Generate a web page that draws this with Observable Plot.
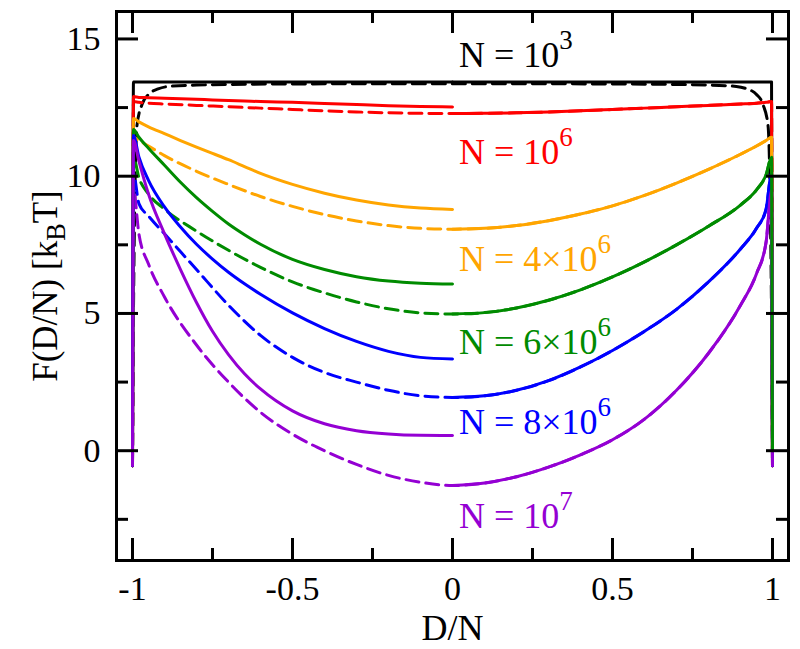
<!DOCTYPE html>
<html><head><meta charset="utf-8">
<script src="https://cdn.jsdelivr.net/npm/d3@7"></script>
<script src="https://cdn.jsdelivr.net/npm/@observablehq/plot@0.6"></script>
<style>
html,body{margin:0;padding:0;background:#fff;}
#chart svg{display:block;}
#chart svg text{font-family:"Liberation Serif","Times New Roman",serif !important;}
</style>
</head><body><div id="chart"></div>
<script>
// ---- series meta ----
const seriesColors = ["#000000", "#ff0000", "#ffa500", "#008b00", "#0000ff", "#9400d3"];
const seriesLabels = ["N = 10^{3}", "N = 10^{6}", "N = 4×10^{6}", "N = 6×10^{6}", "N = 8×10^{6}", "N = 10^{7}"];
const labelX = 0.02;
const labelY = [13.96, 10.46, 6.56, 3.54, 0.62, -2.81];

// ---- axes ----
const xTickValues = [-1, -0.5, 0, 0.5, 1];
const xTickLabels = ["-1", "-0.5", "0", "0.5", "1"];
const xMinorTicks = [-0.75, -0.25, 0.25, 0.75];
const yTickValues = [0, 5, 10, 15];
const yTickLabels = ["0", "5", "10", "15"];
const yMinorTicks = [-2.5, 2.5, 7.5, 12.5];
const xTitle = "D/N";
const yTitle = "F(D/N) [k_{B}T]";

// ---- left-half solid curves (D/N from -1 to 0) ----
const leftX = [-1, -0.997, -0.98, -0.95, -0.9, -0.85, -0.8, -0.75, -0.7, -0.65, -0.6, -0.5, -0.4, -0.3, -0.2, -0.1, 0];
const leftN1e3 = [-0.55, 13.43, 13.43, 13.43, 13.43, 13.43, 13.43, 13.43, 13.43, 13.43, 13.43, 13.43, 13.43, 13.43, 13.43, 13.43, 13.43];
const leftN1e6 = [-0.55, 12.9, 12.87, 12.86, 12.84, 12.82, 12.8, 12.78, 12.76, 12.74, 12.72, 12.69, 12.65, 12.61, 12.57, 12.54, 12.52];
const leftN4e6 = [-0.55, 12.1, 11.98, 11.8, 11.55, 11.3, 11.06, 10.83, 10.6, 10.35, 10.1, 9.7, 9.38, 9.13, 8.95, 8.84, 8.79];
const leftN6e6 = [-0.55, 11.7, 11.42, 11.02, 10.4, 9.78, 9.22, 8.72, 8.26, 7.87, 7.52, 6.97, 6.6, 6.34, 6.18, 6.1, 6.07];
const leftN8e6 = [-0.55, 11.48, 10.7, 9.85, 8.88, 8.15, 7.52, 6.98, 6.5, 6.08, 5.7, 5.02, 4.45, 3.98, 3.62, 3.4, 3.34];
const leftN1e7 = [-0.55, 11.3, 10.55, 9.35, 7.9, 6.6, 5.4, 4.35, 3.5, 2.8, 2.25, 1.45, 0.98, 0.73, 0.61, 0.56, 0.55];

// ---- right-half solid curves (D/N from 0 to 1) ----
const rightX = [0, 0.1, 0.2, 0.3, 0.4, 0.5, 0.6, 0.7, 0.8, 0.9, 0.95, 0.98, 0.997, 1];
const rightN1e3 = [13.43, 13.43, 13.43, 13.43, 13.43, 13.43, 13.43, 13.43, 13.43, 13.43, 13.43, 13.43, 13.43, -0.55];
const rightN1e6 = [12.28, 12.29, 12.31, 12.34, 12.38, 12.43, 12.48, 12.53, 12.58, 12.63, 12.66, 12.69, 12.72, -0.55];
const rightN4e6 = [8.07, 8.1, 8.2, 8.38, 8.62, 8.92, 9.3, 9.75, 10.25, 10.8, 11.1, 11.3, 11.42, -0.55];
const rightN6e6 = [4.98, 5.03, 5.2, 5.48, 5.86, 6.33, 6.88, 7.5, 8.18, 8.95, 9.5, 10.05, 10.69, 0];
const rightN8e6 = [1.94, 2.0, 2.2, 2.55, 3.05, 3.65, 4.35, 5.15, 6.15, 7.35, 8.1, 8.8, 10.09, -0.55];
const rightN1e7 = [-1.27, -1.18, -0.95, -0.6, -0.15, 0.4, 1.15, 2.2, 3.55, 5.3, 6.45, 7.6, 9.48, -0.55];

// ---- dashed curves over the whole range ----
const dashBlackX = [-1, -0.997, -0.986, -0.97, -0.95, -0.92, -0.887, -0.8, -0.5, 0, 0.5, 0.8, 0.887, 0.92, 0.95, 0.97, 0.986, 0.997, 1];
const dashN1e3 = [-0.55, 5.0, 11.85, 12.62, 12.98, 13.18, 13.27, 13.32, 13.36, 13.37, 13.36, 13.32, 13.27, 13.18, 12.98, 12.62, 11.85, 5.0, -0.55];
const dashX = [-1, -0.997, -0.98, -0.95, -0.9, -0.8, -0.7, -0.6, -0.5, -0.4, -0.3, -0.2, -0.1, 0, 0.1, 0.2, 0.3, 0.4, 0.5, 0.6, 0.7, 0.8, 0.9, 0.95, 0.98, 0.997, 1];
const dashN1e6 = [-0.55, 12.72, 12.69, 12.66, 12.63, 12.58, 12.53, 12.48, 12.43, 12.38, 12.34, 12.31, 12.29, 12.28, 12.29, 12.31, 12.34, 12.38, 12.43, 12.48, 12.53, 12.58, 12.63, 12.66, 12.69, 12.72, -0.55];
const dashN4e6 = [-0.55, 11.42, 11.3, 11.1, 10.75, 10.18, 9.7, 9.26, 8.9, 8.6, 8.37, 8.2, 8.1, 8.07, 8.1, 8.2, 8.38, 8.62, 8.92, 9.3, 9.75, 10.25, 10.8, 11.1, 11.3, 11.42, -0.55];
const dashN6e6 = [0, 10.69, 9.95, 9.35, 8.8, 8.0, 7.3, 6.68, 6.15, 5.75, 5.42, 5.17, 5.02, 4.98, 5.03, 5.2, 5.48, 5.86, 6.33, 6.88, 7.5, 8.18, 8.95, 9.5, 10.05, 10.69, 0];
const dashN8e6 = [-0.55, 10.09, 9.0, 8.55, 7.9, 6.6, 5.3, 4.2, 3.4, 2.85, 2.5, 2.2, 2.0, 1.94, 2.0, 2.2, 2.55, 3.05, 3.65, 4.35, 5.15, 6.15, 7.35, 8.1, 8.8, 10.09, -0.55];
const dashN1e7 = [-0.55, 9.48, 7.9, 6.8, 5.6, 3.85, 2.5, 1.4, 0.6, 0.0, -0.5, -0.9, -1.15, -1.27, -1.18, -0.95, -0.6, -0.15, 0.4, 1.15, 2.2, 3.55, 5.3, 6.45, 7.6, 9.48, -0.55];

// ---- build ----
const FONT = "Liberation Serif, Times New Roman, serif";
const W = 800, H = 649;
const mL = 116, mR = 12, mT = 11, mB = 89;
const frameW = W - mL - mR, frameH = H - mT - mB;
const majorLen = 22, minorLen = 12, lw = 3;

const rows = (xs, ys) => xs.map((x, i) => ({x, y: ys[i]}));
const leftSets = [leftN1e3, leftN1e6, leftN4e6, leftN6e6, leftN8e6, leftN1e7];
const rightSets = [rightN1e3, rightN1e6, rightN4e6, rightN6e6, rightN8e6, rightN1e7];
const dashSets = [[dashBlackX, dashN1e3], [dashX, dashN1e6], [dashX, dashN4e6], [dashX, dashN6e6], [dashX, dashN8e6], [dashX, dashN1e7]];
const rightOrder = [0, 1, 2, 4, 5, 3];

const lineOpts = (i, dashed) => ({x: "x", y: "y", stroke: seriesColors[i], strokeWidth: lw, curve: "monotone-x",
  strokeDasharray: dashed ? "13,7" : null, strokeLinejoin: "round"});

const marks = [];
dashSets.forEach(([xs, ys], i) => marks.push(Plot.line(rows(xs, ys), lineOpts(i, true))));
leftSets.forEach((ys, i) => marks.push(Plot.line(rows(leftX, ys), lineOpts(i, false))));
rightOrder.forEach(i => marks.push(Plot.line(rows(rightX, rightSets[i]), lineOpts(i, false))));

// frame and inward ticks on all four sides
marks.push(Plot.frame({stroke: "black", strokeWidth: lw}));
const tickStyle = {stroke: "black", strokeWidth: lw};
marks.push(
  Plot.ruleX(xTickValues, {x: d => d, insetTop: frameH - majorLen, ...tickStyle}),
  Plot.ruleX(xTickValues, {x: d => d, insetBottom: frameH - majorLen, ...tickStyle}),
  Plot.ruleX(xMinorTicks, {x: d => d, insetTop: frameH - minorLen, ...tickStyle}),
  Plot.ruleX(xMinorTicks, {x: d => d, insetBottom: frameH - minorLen, ...tickStyle}),
  Plot.ruleY(yTickValues, {y: d => d, insetRight: frameW - majorLen, ...tickStyle}),
  Plot.ruleY(yTickValues, {y: d => d, insetLeft: frameW - majorLen, ...tickStyle}),
  Plot.ruleY(yMinorTicks, {y: d => d, insetRight: frameW - minorLen, ...tickStyle}),
  Plot.ruleY(yMinorTicks, {y: d => d, insetLeft: frameW - minorLen, ...tickStyle})
);

// tick labels
marks.push(
  Plot.text(xTickValues, {x: d => d, text: (d, i) => xTickLabels[i], frameAnchor: "bottom", dy: 39,
    lineAnchor: "bottom", textAnchor: "middle", fontSize: 34, fontFamily: FONT, fill: "black"}),
  Plot.text(yTickValues, {y: d => d, text: (d, i) => yTickLabels[i], frameAnchor: "left", dx: -16,
    lineAnchor: "middle", textAnchor: "end", fontSize: 34, fontFamily: FONT, fill: "black"})
);

// axis titles
marks.push(
  Plot.text([xTitle], {text: d => d, frameAnchor: "bottom", dy: 79, lineAnchor: "bottom", textAnchor: "middle", fontSize: 36, fontFamily: FONT, fill: "black"}),
  Plot.text([yTitle], {text: d => d, frameAnchor: "left", dx: -60, rotate: -90, lineAnchor: "bottom", textAnchor: "middle", fontSize: 35, fontFamily: FONT, fill: "black"})
);

// series labels
seriesLabels.forEach((lab, i) => marks.push(
  Plot.text([lab], {text: d => d, x: labelX, y: labelY[i], textAnchor: "start", lineAnchor: "bottom", fontSize: 36, fontFamily: FONT, fill: seriesColors[i]})
));

const chart = Plot.plot({
  width: W, height: H,
  marginLeft: mL, marginRight: mR, marginTop: mT, marginBottom: mB,
  x: {domain: [-1.05, 1.05], axis: null},
  y: {domain: [-4, 16], axis: null},
  style: {fontFamily: FONT, background: "white", overflow: "visible"},
  marks
});
document.getElementById("chart").appendChild(chart);

// rich text: ^{...} superscript, _{...} subscript
const NS = "http://www.w3.org/2000/svg";
chart.querySelectorAll("text").forEach(t => {
  const s = t.textContent;
  const re = /([\^_])\{([^}]*)\}/g;
  if (!re.test(s)) return;
  re.lastIndex = 0;
  const fs = parseFloat(getComputedStyle(t).fontSize) || 36;
  t.textContent = "";
  let cur = 0, last = 0, m;
  const add = (str, off, small) => {
    if (!str) return;
    const sp = document.createElementNS(NS, "tspan");
    sp.textContent = str;
    if (small) sp.setAttribute("font-size", (fs * 0.75).toFixed(1));
    const d = off - cur;
    if (d) sp.setAttribute("dy", d.toFixed(1));
    cur = off;
    t.appendChild(sp);
  };
  while ((m = re.exec(s))) {
    add(s.slice(last, m.index), 0, false);
    add(m[2], m[1] === "^" ? -0.5 * fs : 0.25 * fs, true);
    last = re.lastIndex;
  }
  add(s.slice(last), 0, false);
});
</script>
</body></html>
